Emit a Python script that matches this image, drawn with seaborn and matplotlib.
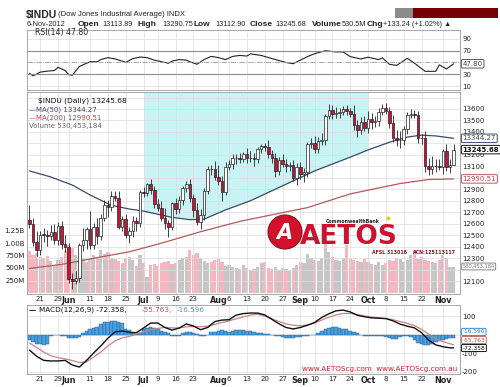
import matplotlib
matplotlib.use("Agg")
import matplotlib.pyplot as plt
import seaborn as sns
import pandas as pd
from matplotlib.patches import Rectangle, Ellipse

# ============================================================
# 1. DATA ($INDU daily)
# ============================================================
tick_idx = [3, 8, 11, 17, 22, 27, 32, 36, 41, 46, 53, 56, 61, 66, 71, 76, 80, 85, 90, 95, 100, 105, 110, 116]
tick_lbl = ["21", "29", "Jun", "11", "18", "25", "Jul", "9", "16", "23", "Aug", "6", "13", "20", "27",
            "Sep", "10", "17", "24", "Oct", "8", "15", "22", "Nov"]
months = {"Jun", "Jul", "Aug", "Sep", "Oct", "Nov"}

first_open = 12632.00
close = [
    12598.55, 12442.49, 12369.38, 12504.48, 12502.81, 12496.15, 12529.75, 12454.83, 12580.69, 12419.86,
    12393.45, 12118.57, 12101.46, 12127.95, 12414.79, 12460.96, 12554.20, 12411.23, 12573.80, 12496.38,
    12651.91, 12767.17, 12741.82, 12837.33, 12824.39, 12573.57, 12640.78, 12502.66, 12534.67, 12627.01,
    12602.26, 12880.09, 12871.39, 12943.82, 12896.67, 12772.47, 12736.29, 12653.12, 12604.53, 12573.27,
    12777.09, 12727.21, 12805.54, 12908.70, 12943.36, 12822.57, 12721.46, 12617.32, 12676.05, 12887.93,
    13075.66, 13073.01, 13008.68, 12976.13, 12878.88, 13096.17, 13117.51, 13168.60, 13175.64, 13165.19,
    13207.95, 13169.43, 13172.14, 13164.78, 13250.11, 13275.20, 13271.64, 13203.58, 13172.76, 13057.46,
    13157.97, 13124.67, 13102.99, 13107.48, 13000.71, 13090.84, 13035.94, 13047.48, 13292.00, 13306.64,
    13254.29, 13323.36, 13333.35, 13539.86, 13593.37, 13553.10, 13564.64, 13577.96, 13596.93, 13579.47,
    13558.92, 13457.55, 13413.51, 13485.97, 13437.13, 13515.11, 13482.36, 13494.61, 13575.36, 13610.15,
    13583.65, 13473.53, 13344.97, 13326.39, 13328.85, 13424.23, 13551.78, 13557.00, 13548.94, 13343.51,
    13345.89, 13102.53, 13077.34, 13103.68, 13107.21, 13096.46, 13232.62, 13093.16, 13112.44, 13245.68,
]
# wick length above / below the candle body (points)
wick_up = [
    130, 50, 90, 30, 60, 40, 60, 70, 30, 40,
    80, 40, 50, 60, 20, 100, 20, 160, 30, 80,
    30, 40, 40, 50, 50, 60, 30, 40, 40, 40,
    30, 10, 40, 10, 50, 30, 40, 60, 80, 30,
    10, 50, 40, 20, 30, 50, 40, 60, 50, 20,
    30, 40, 70, 100, 40, 40, 40, 40, 30, 40,
    20, 50, 60, 40, 20, 20, 30, 60, 40, 40,
    20, 50, 40, 30, 50, 40, 50, 40, 20, 40,
    60, 30, 60, 20, 50, 40, 50, 30, 30, 40,
    30, 80, 50, 40, 50, 70, 50, 40, 30, 30,
    40, 30, 70, 70, 80, 30, 20, 40, 30, 30,
    40, 60, 70, 90, 60, 60, 20, 60, 50, 45,
]
wick_dn = [
    40, 40, 50, 40, 60, 90, 40, 30, 40, 40,
    40, 40, 70, 30, 40, 50, 80, 30, 30, 70,
    40, 30, 80, 30, 30, 20, 40, 30, 70, 50,
    70, 30, 40, 30, 40, 40, 30, 30, 50, 90,
    30, 40, 30, 40, 30, 30, 60, 30, 60, 40,
    30, 50, 30, 40, 80, 30, 30, 40, 50, 40,
    30, 40, 30, 60, 40, 30, 40, 30, 40, 50,
    30, 30, 50, 40, 30, 60, 50, 70, 40, 30,
    40, 40, 40, 50, 30, 40, 30, 40, 30, 30,
    30, 40, 60, 30, 30, 50, 60, 40, 40, 30,
    30, 40, 30, 50, 70, 40, 40, 30, 30, 40,
    50, 50, 50, 40, 50, 30, 60, 30, 50, 1,
]
volume_m = [
    840, 760, 800, 720, 700, 740, 640, 560, 660, 720,
    840, 960, 900, 760, 800, 700, 620, 680, 760, 720,
    860, 780, 820, 700, 680, 640, 600, 700, 720, 660,
    540, 760, 600, 320, 560, 580, 540, 600, 620, 640,
    580, 600, 660, 700, 720, 860, 760, 800, 700, 640,
    600, 620, 660, 680, 620, 540, 560, 520, 500, 480,
    560, 500, 460, 480, 520, 600, 620, 500, 480, 520,
    460, 500, 480, 440, 500, 560, 620, 600, 780, 700,
    660, 640, 700, 1000, 820, 720, 660, 640, 700, 960,
    700, 660, 640, 620, 680, 620, 580, 560, 620, 560,
    600, 660, 640, 700, 680, 620, 660, 760, 860, 680,
    720, 660, 640, 620, 600, 660, 760, 700, 520, 530,
]

ma50_idx = [0, 6, 12, 17, 23, 28, 32, 40, 45, 49, 55, 62, 71, 80, 90, 95, 101, 106, 110, 114, 119]
ma50_val = [13060, 13007, 12937, 12850, 12760, 12728, 12710, 12655, 12635, 12640, 12720,
            12800, 12930, 13060, 13180, 13243, 13310, 13355, 13372, 13365, 13344.27]
ma200_idx = [0, 9, 20, 28, 37, 48, 59, 70, 78, 90, 104, 112, 119]
ma200_val = [12210, 12245, 12310, 12355, 12430, 12530, 12620, 12690, 12740, 12860, 12950, 12985, 12990.51]

rsi_idx = [0, 1, 3, 5, 7, 8, 10, 11, 12, 14, 16, 17, 19, 20, 22, 24, 26, 27, 29, 31, 33, 35, 37, 39,
           40, 42, 44, 45, 47, 49, 51, 53, 55, 57, 59, 61, 62, 65, 69, 72, 74, 75, 78, 80, 83, 86,
           88, 90, 93, 95, 98, 99, 101, 103, 106, 108, 111, 114, 115, 117, 119]
rsi_val = [31.6, 27.3, 33.6, 35.3, 36.4, 41.8, 36.4, 29.4, 28.3, 43.3, 48.7, 51.3, 51.3, 55, 58.3,
           56, 52.4, 50.2, 56.6, 59.3, 58.3, 54, 51.3, 48.7, 52.4, 55, 54, 51.3, 47, 55, 60.4, 58.3,
           55, 60.4, 62, 61, 64.7, 62, 55, 50, 48, 51, 60, 65, 70, 68, 68, 60, 56, 59, 55, 58, 47,
           45, 57, 49, 35, 35, 46, 39, 47.8]

macd_idx = list(range(0, 120, 2)) + [119]
macd_val = [-84, -118, -140, -143, -143, -140, -165, -176, -140, -100, -62, -20, 14, 19, 12, 10,
            35, 62, 62, 38, 24, 35, 57, 46, 26, 38, 70, 78, 80, 105, 113, 116, 116, 106, 82, 58,
            38, 30, 38, 50, 65, 92, 112, 128, 132, 122, 104, 96, 90, 88, 86, 74, 56, 45, 36, 10,
            -30, -56, -66, -72, -72.358]
signal_val = [-46, -70, -95, -115, -125, -132, -140, -152, -148, -122, -95, -62, -35, -18, -10, 2,
              15, 26, 33, 38, 36, 35, 42, 43, 42, 45, 55, 65, 74, 85, 95, 105, 110, 100, 85, 70,
              57, 50, 47, 52, 62, 78, 94, 106, 114, 114, 108, 100, 94, 90, 86, 80, 70, 60, 48, 28,
              2, -22, -38, -50, -55.763]
hist_val = [
    -31, -40, -49, -54, -58, -50, -8, -5, -5, -6,
    -8, -18, -20, -20, -15, 10, 20, 28, 35, 40,
    55, 65, 70, 73, 72, 68, 60, 30, 24, 8,
    5, 6, 28, 35, 38, 36, 30, 18, 14, 6,
    -6, -9, -8, 6, 11, 12, 10, 4, -6, -9,
    -4, 12, 16, 20, 22, 18, 15, 18, 22, 24,
    22, 20, 18, 15, 10, 8, 5, 3, -3, -6,
    -10, -14, -18, -20, -18, -15, -12, -10, -8, -5,
    -2, 8, 20, 30, 36, 38, 38, 36, 32, 28,
    20, 14, 6, -4, -6, -8, -10, -8, -6, -10,
    -15, -20, -25, -22, -15, -10, -8, -12, -30, -45,
    -52, -58, -56, -50, -42, -35, -30, -25, -20, -16.596,
]

# ============================================================
# 2. DERIVED FRAME
# ============================================================
n = len(close)
idx = list(range(n))
opn = [first_open] + close[:-1]
high = [max(o, c) + u for o, c, u in zip(opn, close, wick_up)]
low = [min(o, c) - d for o, c, d in zip(opn, close, wick_dn)]
prev = [first_open] + close[:-1]
direction = ["down" if c < p else "up" for c, p in zip(close, prev)]
df = pd.DataFrame({"idx": idx, "open": opn, "close": close, "high": high, "low": low,
                   "volume": volume_m, "dir": direction, "hist": hist_val})

# ============================================================
# 3. FIGURE LAYOUT (pixel helpers)
# ============================================================
sns.set_style("white")
plt.rcParams["font.family"] = ["DejaVu Sans"]

W, H = 500, 387
def fx(px):
    return px / W
def fy(py):
    return 1 - py / H

XL = (-0.7, 120.8)
LEFT, RIGHT = 27, 460
fig = plt.figure(figsize=(5.0, 3.87), dpi=100)
fig.patch.set_facecolor("white")

ax_rsi = fig.add_axes([fx(LEFT), fy(90), fx(RIGHT) - fx(LEFT), 60 / H])
ax_vol = fig.add_axes([fx(LEFT), fy(294), fx(RIGHT) - fx(LEFT), 202 / H])
ax_px = fig.add_axes([fx(LEFT), fy(294), fx(RIGHT) - fx(LEFT), 202 / H])
ax_px.patch.set_visible(False)
ax_macd = fig.add_axes([fx(LEFT), fy(374), fx(RIGHT) - fx(LEFT), 69 / H])

GRID = "#dcdcdc"

def frame(ax):
    for s in ax.spines.values():
        s.set_color("#9a9a9a")
        s.set_linewidth(0.6)
    ax.set_xlim(XL)
    ax.set_xticks(tick_idx)
    ax.tick_params(length=0, labelsize=5, colors="#222222", pad=1.5)
    ax.grid(True, color=GRID, lw=0.5)
    ax.set_axisbelow(True)
    ax.set_xlabel("")
    ax.set_ylabel("")

def value_box(ax, y, text, ec, tc, bold=False, size=5):
    ax.text(1.006, y, text, transform=ax.get_yaxis_transform(), ha="left", va="center",
            fontsize=size, color=tc, fontweight="bold" if bold else "normal", clip_on=False, zorder=20,
            bbox=dict(boxstyle="round,pad=0.18", fc="white", ec=ec, lw=0.7))

def bold_months(ax):
    for lab in ax.get_xticklabels():
        if lab.get_text() in months:
            lab.set_fontweight("bold")
            lab.set_fontsize(5.8)

# ============================================================
# 4. RSI PANEL
# ============================================================
sns.lineplot(x=rsi_idx, y=rsi_val, ax=ax_rsi, color="#222222", lw=0.8)
frame(ax_rsi)
ax_rsi.axhline(70, color="#8c8c8c", lw=0.8)
ax_rsi.axhline(30, color="#8c8c8c", lw=0.8)
ax_rsi.axhline(50, color="#999999", lw=0.6, ls="-.")
ax_rsi.set_ylim(3.2, 105.3)
ax_rsi.set_yticks([10, 30, 70, 90])
ax_rsi.yaxis.tick_right()
ax_rsi.set_xticklabels([])
value_box(ax_rsi, 47.80, "47.80", "#555555", "#444444")

# ============================================================
# 5. PRICE + VOLUME PANEL
# ============================================================
sns.barplot(data=df, x="idx", y="volume", hue="dir", palette={"down": "#f3b7c0", "up": "#c6c6c6"},
            native_scale=True, dodge=False, width=0.9, errorbar=None, saturation=1, legend=False,
            linewidth=0, ax=ax_vol)
ax_vol.set_xlim(XL)
ax_vol.set_ylim(-20, 4020)
ax_vol.set_yticks([250, 500, 750, 1000, 1250])
ax_vol.set_yticklabels(["250M", "500M", "750M", "1.00B", "1.25B"])
ax_vol.yaxis.tick_left()
ax_vol.set_xticks([])
ax_vol.tick_params(length=0, labelsize=5, colors="#222222", pad=1.5)
ax_vol.set_xlabel("")
ax_vol.set_ylabel("")
for s in ax_vol.spines.values():
    s.set_visible(False)
value_box(ax_vol, 530.45, "530,453,184", "#888888", "#777777", size=3.7)

# cyan highlight between top of panel and the MA(50), Jul -> end of Sep
PTOP, PBOT = 13748, 11987
sub = [(i, v) for i, v in zip(ma50_idx, ma50_val) if 32 <= i <= 95]
ax_px.fill_between([s[0] for s in sub], [s[1] for s in sub], PTOP, color="#c9f4f6", lw=0, zorder=0.5)

sns.lineplot(x=ma200_idx, y=ma200_val, ax=ax_px, color="#b25a5c", lw=0.9, zorder=2)
sns.lineplot(x=ma50_idx, y=ma50_val, ax=ax_px, color="#3d4a66", lw=0.9, zorder=2)

body_bot = [min(o, c) for o, c in zip(df["open"], df["close"])]
body_h = [max(abs(c - o), 3) for o, c in zip(df["open"], df["close"])]
face = ["#cc1236" if d == "down" else "white" for d in df["dir"]]
ax_px.vlines(df["idx"], df["low"], df["high"], color="#222222", lw=0.6, zorder=3)
ax_px.bar(df["idx"], body_h, bottom=body_bot, width=0.72, color=face, edgecolor="#222222",
          linewidth=0.5, zorder=4)

frame(ax_px)
ax_px.set_ylim(PBOT, PTOP)
pticks = list(range(12100, 13701, 100))
ax_px.set_yticks(pticks)
ax_px.set_yticklabels(["" if t in (12200, 13000, 13300, 13700) else str(t) for t in pticks])
ax_px.yaxis.tick_right()
ax_px.set_xticklabels(tick_lbl)
bold_months(ax_px)

value_box(ax_px, 13344.27, "13344.27", "#3d4a66", "#3d4a66")
value_box(ax_px, 13245.68, "13245.68", "#111111", "#111111", bold=True)
value_box(ax_px, 12990.51, "12990.51", "#b25a5c", "#a94a4a")

# ============================================================
# 6. MACD PANEL
# ============================================================
sns.barplot(data=df, x="idx", y="hist", native_scale=True, color="#4c9fdc", width=1.0,
            errorbar=None, saturation=1, edgecolor="#1e5d96", linewidth=0.3, ax=ax_macd)
sns.lineplot(x=macd_idx, y=signal_val, ax=ax_macd, color="#c88484", lw=0.9)
sns.lineplot(x=macd_idx, y=macd_val, ax=ax_macd, color="#111111", lw=1.0)
frame(ax_macd)
ax_macd.set_ylim(-213.5, 159.5)
ax_macd.set_yticks([-200, -100, 0, 100])
ax_macd.set_yticklabels(["-200", "-100", "", "100"])
ax_macd.yaxis.tick_right()
ax_macd.set_xticklabels(tick_lbl)
bold_months(ax_macd)
# stacked last-value tags (the reference shows them piled on each other)
value_box(ax_macd, 14, "-16.596", "#3a8fd0", "#3a7fb0", size=4.2)
value_box(ax_macd, -30, "-55.763", "#c07070", "#b05050", size=4.2)
value_box(ax_macd, -73, "-72.358", "#111111", "#111111", size=4.2)

# ============================================================
# 7. HEADER, LEGENDS AND WATERMARK
# ============================================================
fig.text(fx(26), fy(15), "$INDU", fontsize=7.5, fontweight="bold", family="Liberation Sans", va="center")
fig.text(fx(58), fy(15), "(Dow Jones Industrial Average) INDX", fontsize=5.5, family="Liberation Sans",
         va="center", color="#222222")
hdr = [(27, "6-Nov-2012", False), (78, "Open", True), (102, "13113.89", False), (138, "High", True),
       (162, "13290.75", False), (194, "Low", True), (215, "13112.90", False), (250, "Close", True),
       (275, "13245.68", False), (312, "Volume", True), (342, "530.5M", False), (367, "Chg", True),
       (383, "+133.24 (+1.02%) \u25b2", False)]
for x, s, b in hdr:
    fig.text(fx(x), fy(25), s, fontsize=6 if b else 5.3, fontweight="bold" if b else "normal",
             family="Liberation Sans", va="center", color="#222222")
fig.add_artist(Rectangle((fx(395), fy(18)), 18 / W, 10 / H, transform=fig.transFigure, fc="#8c8c8c", lw=0))
fig.add_artist(Rectangle((fx(413), fy(18)), 85 / W, 10 / H, transform=fig.transFigure, fc="#760008", lw=0))

fig.text(fx(35), fy(33), "RSI(14) 47.80", fontsize=5.6, color="#222222", va="center")
fig.text(fx(38), fy(101), "$INDU (Daily) 13245.68", fontsize=5.4, color="#111111", va="center")
fig.text(fx(29), fy(110), "\u2014MA(50) 13344.27", fontsize=5, color="#3d4a66", va="center")
fig.text(fx(29), fy(118), "\u2014MA(200) 12990.51", fontsize=5, color="#a94a4a", va="center")
fig.text(fx(29), fy(126), "Volume 530,453,184", fontsize=5, color="#666666", va="center")

fig.text(fx(29), fy(310), "\u2014", fontsize=5.2, color="#111111", va="center", fontweight="bold")
fig.text(fx(39), fy(310), "MACD(12,26,9) -72.358,", fontsize=5.2, color="#111111", va="center")
fig.text(fx(142), fy(310), "-55.763,", fontsize=5.2, color="#b05050", va="center")
fig.text(fx(177), fy(310), "-16.596", fontsize=5.2, color="#5a9ab8", va="center")

# AETOS watermark
fig.add_artist(Ellipse((fx(285), fy(232)), 34 / W, 34 / H, transform=fig.transFigure,
                       fc="#d0122c", ec="#9a0a1c", lw=0.8, zorder=5))
fig.text(fx(284), fy(233), "A", color="white", fontsize=15, fontweight="bold", style="italic",
         ha="center", va="center", zorder=6)
fig.text(fx(300), fy(237), "AETOS", fontsize=19, fontweight="bold", color="#cc1230", va="center", zorder=6)
fig.text(fx(326), fy(221), "CommonwealthBank", fontsize=3.3, fontweight="bold", color="#222222",
         va="center", zorder=6)
fig.text(fx(386), fy(219), "\u25c6", fontsize=4.5, color="#f2c200", va="center", zorder=6)
fig.text(fx(372), fy(252), "AFSL 313016", fontsize=3.4, fontweight="bold", color="#8a1020", va="center", zorder=6)
fig.text(fx(413), fy(252), "ACN:125113117", fontsize=3.4, fontweight="bold", color="#8a1020", va="center", zorder=6)
fig.text(fx(302), fy(369), "www.AETOScg.com  www.AETOScg.com.au", fontsize=5.2, color="#c81e2e",
         va="center", zorder=6, bbox=dict(fc="white", ec="none", pad=0.2))

fig.savefig("out.png", dpi=100)
